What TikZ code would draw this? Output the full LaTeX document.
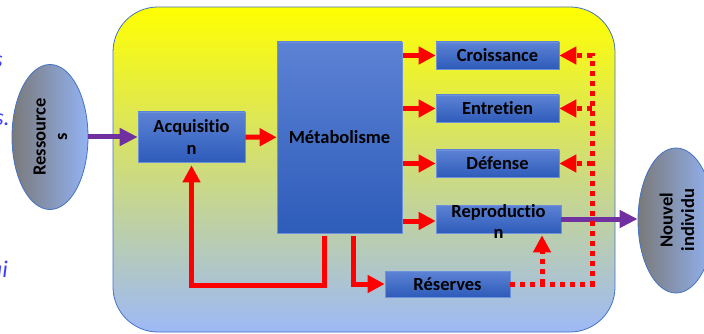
\documentclass[tikz,border=0pt]{standalone}
\usepackage{fontspec}
\setmainfont{Carlito}[Ligatures=NoCommon]
\usetikzlibrary{arrows.meta,shapes.geometric}

\definecolor{boxtop}{RGB}{92,130,212}
\definecolor{boxbot}{RGB}{46,92,186}
\definecolor{boxline}{RGB}{110,145,220}
\definecolor{edgeblue}{RGB}{68,114,196}
\definecolor{cellmid}{RGB}{222,228,218}
\definecolor{cellbot}{RGB}{157,185,247}
\definecolor{blobright}{RGB}{147,179,243}
\definecolor{violet}{RGB}{112,48,160}
\definecolor{fadedblue}{RGB}{64,64,255}

\newcommand{\lblfont}{\fontsize{18.5}{21.5}\selectfont\bfseries}

\tikzset{
  cellbox/.style={draw=edgeblue, line width=0.8pt, rounded corners=45pt,
    top color=yellow, middle color=cellmid, bottom color=cellbot,
    minimum width=502pt, minimum height=325pt},
  box/.style={draw=boxline, line width=0.6pt, top color=boxtop, bottom color=boxbot,
    minimum width=123pt, minimum height=27pt, inner sep=0pt, align=center, font=\lblfont},
  boxtext/.style={inner sep=0pt, align=center, font=\lblfont},
  blob/.style={ellipse, draw=edgeblue, line width=0.8pt, left color=gray!95!black,
    right color=blobright, minimum width=76pt, minimum height=145pt, inner sep=0pt},
  blobtext/.style={rotate=90, inner sep=0pt, align=center, font=\lblfont},
  faded/.style={inner sep=0pt, anchor=base east, text=fadedblue,
    font=\fontsize{24}{28}\selectfont\itshape},
  redfeed/.style={red, line width=5pt, -{Triangle[length=17pt,width=17pt]}},
  redback/.style={red, line width=5pt, dash pattern=on 5pt off 5pt,
    -{Triangle[length=17pt,width=17pt]}},
  purpleflow/.style={violet, line width=5pt, -{Triangle[length=18pt,width=17pt]}}
}

\begin{document}
\begin{tikzpicture}[x=1pt,y=-1pt]
\clip (0,0) rectangle (704,334);
\node[cellbox] (cell) at (364,169.5) {};

% bouts de texte coupes a gauche
\node[faded] (t1) at (3,68) {s};
\node[faded] (t2) at (10,126) {s.};
\node[faded] (t3) at (8,277) {ui};

\node[blob] (res) at (50,137) {};
\node[blobtext] (restxt) at (50.5,137) {Ressource\\s};
\node[blob] (nou) at (676,220.5) {};
\node[blobtext] (noutxt) at (677,220) {Nouvel\\individu};

\node[box, minimum width=107pt, minimum height=50pt] (acq) at (191.5,137) {Acquisitio\\n};
\node[box, minimum width=125pt, minimum height=191pt] (met) at (339.5,137.5) {M\'etabolisme};
\node[box] (cro) at (497.5,55.5) {Croissance};
\node[box] (ent) at (497.5,108.5) {Entretien};
\node[box] (def) at (497.5,163.5) {D\'efense};
\node[box, minimum width=125pt, minimum height=28pt] (rep) at (498.5,219) {};
\node[boxtext] (reptxt) at ([yshift=-2.5pt]rep.center) {Reproductio\\n};
\node[box, minimum width=125pt, minimum height=26pt] (rsv) at (447.5,284) {R\'eserves};

% entree et sortie
\draw[purpleflow] (res.east) -- (acq.west);
\draw[purpleflow] (rep.east) -- (rep.east -| nou.west);

% flux d'energie
\draw[redfeed] (acq) -- (met);
\draw[redfeed, shorten <=1pt] (met.east |- cro) -- (cro);
\draw[redfeed, shorten <=1pt] (met.east |- ent) -- (ent);
\draw[redfeed, shorten <=1pt] (met.east |- def) -- (def);
\draw[redfeed, shorten <=1pt] ([yshift=-2pt]met.east |- rep) -- ([yshift=-2pt]rep.west);
\draw[redfeed] ([xshift=-15.5pt,yshift=-3pt]met.south) -- ++(0,49) -| ([yshift=-3pt]acq.south);
\draw[redfeed] ([xshift=13.5pt,yshift=-3pt]met.south) |- (rsv.west);

% remobilisation des reserves
\coordinate (dbot) at (592,284);
\coordinate (dsplit) at (542,284);
\draw[redback] (rsv.east) -- (dbot) -- (dbot |- cro.east) -- (cro.east);
\draw[redback] (dbot |- ent.east) -- (ent.east);
\draw[redback] (dbot |- def.east) -- (def.east);
\draw[redback] (dsplit) -- ([yshift=-2pt]dsplit |- rep.south);
\end{tikzpicture}
\end{document}
